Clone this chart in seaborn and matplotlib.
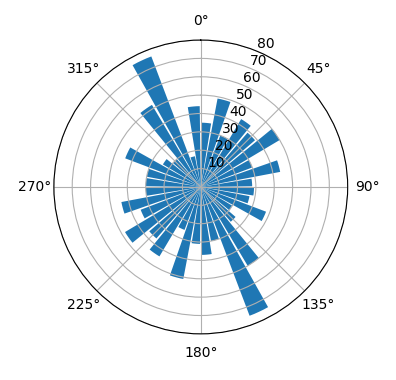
import numpy as np
import pandas as pd
import matplotlib
matplotlib.use("Agg")
import matplotlib.pyplot as plt
import seaborn as sns

# Напрямки (центри секторів, градуси) та довжини стовпців
angles_deg = [5, 15, 25, 35, 45, 55, 65, 75, 85, 95, 105, 115,
              125, 135, 145, 155, 165, 175, 185, 195, 205, 215, 225, 235,
              245, 255, 265, 275, 285, 295, 305, 315, 325, 335, 345, 355]
radii = [35, 49, 30, 43, 39, 50, 30, 44, 28, 29, 27, 38,
         20, 25, 50, 75, 30, 37, 31, 51, 25, 44, 37, 48,
         35, 44, 30, 30, 30, 44, 24, 20, 52, 76, 17, 44]
r_ticks = [10, 20, 30, 40, 50, 60, 70, 80]

df = pd.DataFrame({"theta": np.deg2rad(angles_deg), "r": radii})

fig = plt.figure(figsize=(3.96, 3.8), dpi=100)
ax = fig.add_axes([0.136, 0.121, 0.742, 0.774], projection="polar")
ax.set_theta_zero_location("N")
ax.set_theta_direction(-1)

# Стовпці через seaborn (числова шкала кутів)
sns.barplot(data=df, x="theta", y="r", native_scale=True, width=0.85,
            color=sns.color_palette()[0], saturation=1, errorbar=None, ax=ax)

ax.set_ylim(0, 80)
ax.set_yticks(r_ticks)
ax.set_xlabel("")
ax.set_ylabel("")

fig.savefig("out.png", dpi=100)
